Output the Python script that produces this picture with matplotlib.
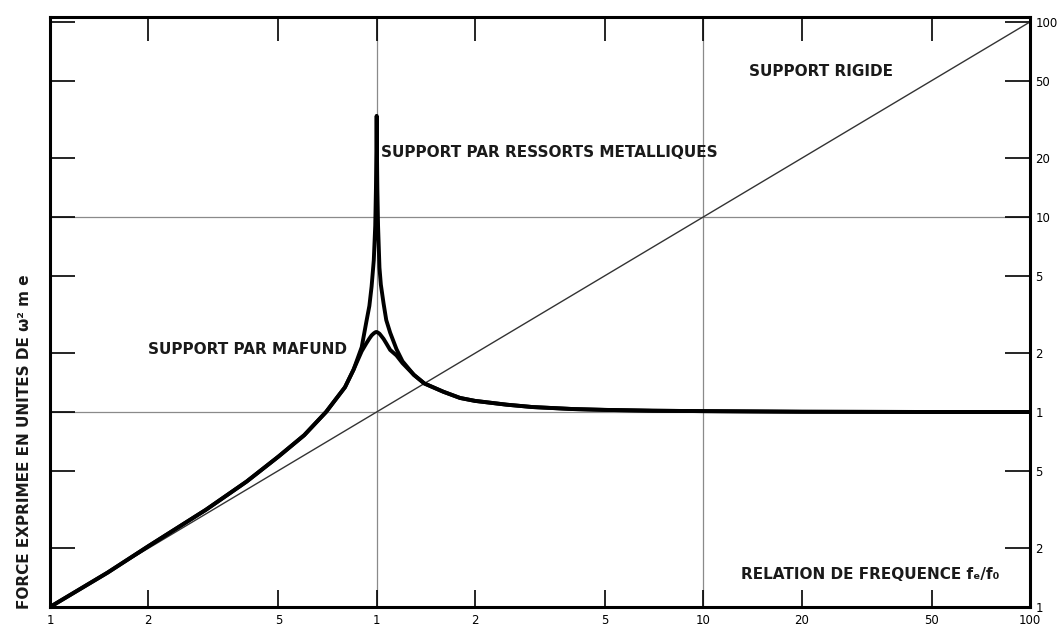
"""Force transmise selon le type de support (courbe de resonance, log-log)."""

import matplotlib
matplotlib.use("Agg")
import matplotlib.pyplot as plt

# frequency ratio (x) -- shared by both supports
ratio = [0.1, 0.15, 0.2, 0.3, 0.4, 0.5, 0.6, 0.7, 0.8, 0.85, 0.9, 0.93,
         0.95, 0.965, 0.98, 0.99, 0.995, 0.998, 1.0, 1.002, 1.005, 1.01,
         1.02, 1.03, 1.05, 1.07, 1.1, 1.15, 1.2, 1.3, 1.4, 1.6, 1.8, 2.0,
         2.5, 3.0, 4.0, 5.0, 7.0, 10.0, 20.0, 50.0, 100.0]

# support par ressorts metalliques (undamped spike)
force_springs = [0.1, 0.15, 0.205, 0.315, 0.44, 0.59, 0.76, 1.0, 1.34,
                 1.65, 2.15, 2.9, 3.5, 4.4, 6.0, 9.0, 14.0, 22.0, 33.0,
                 22.0, 14.0, 9.0, 5.5, 4.5, 3.6, 2.96, 2.55, 2.1, 1.82,
                 1.55, 1.4, 1.27, 1.18, 1.14, 1.09, 1.06, 1.035, 1.025,
                 1.015, 1.01, 1.003, 1.0, 1.0]

# support par Mafund (damped)
force_mafund = [0.1, 0.15, 0.205, 0.315, 0.44, 0.59, 0.76, 1.0, 1.34,
                1.65, 2.05, 2.25, 2.38, 2.47, 2.53, 2.56, 2.57, 2.57, 2.57,
                2.57, 2.56, 2.55, 2.52, 2.47, 2.37, 2.25, 2.08, 1.95, 1.78,
                1.55, 1.4, 1.27, 1.18, 1.14, 1.09, 1.06, 1.035, 1.025,
                1.015, 1.01, 1.003, 1.0, 1.0]

# support rigide: force grows with the ratio
rigid_x = [0.1, 100.0]
rigid_y = [0.1, 100.0]

x_ticks = [0.1, 0.2, 0.5, 1, 2, 5, 10, 20, 50, 100]
x_labels = ["1", "2", "5", "1", "2", "5", "10", "20", "50", "100"]
y_ticks = [0.1, 0.2, 0.5, 1, 2, 5, 10, 20, 50, 100]
y_labels = ["1", "2", "5", "1", "2", "5", "10", "20", "50", "100"]

bold = dict(family="DejaVu Sans", fontweight="bold", fontsize=11,
            color="#1a1a1a")

fig = plt.figure(figsize=(10.59, 6.37), dpi=100)
ax = fig.add_axes([0.0472, 0.0471, 0.9254, 0.9262])
ax.set_xscale("log")
ax.set_yscale("log")
ax.set_xlim(0.1, 100)
ax.set_ylim(0.1, 106)

# thin reference lines at 1 and 10
for v in (1, 10):
    ax.axvline(v, color="#8a8a8a", lw=0.9, zorder=1)
    ax.axhline(v, color="#8a8a8a", lw=0.9, zorder=1)

ax.plot(rigid_x, rigid_y, color="#333333", lw=1.0, zorder=2)
ax.plot(ratio, force_springs, color="black", lw=2.8, zorder=3)
ax.plot(ratio, force_mafund, color="black", lw=2.8, zorder=3)

ax.text(13.8, 55.5, "SUPPORT RIGIDE", va="center", ha="left", **bold)
ax.text(1.03, 21.5, "SUPPORT PAR RESSORTS METALLIQUES", va="center",
        ha="left", **bold)
ax.text(0.2, 2.08, "SUPPORT PAR MAFUND", va="center", ha="left", **bold)
ax.text(13.0, 0.146, "RELATION DE FREQUENCE fₑ/f₀", va="center", ha="left",
        **bold)
fig.text(0.0236, 0.306, "FORCE EXPRIMEE EN UNITES DE ω² m e", rotation=90,
         va="center", ha="center", **bold)

for side in ax.spines.values():
    side.set_linewidth(2.2)

ax.minorticks_off()
ax.set_xticks(x_ticks)
ax.set_xticklabels(x_labels)
ax.set_yticks(y_ticks)
ax.set_yticklabels(y_labels)
ax.tick_params(axis="x", which="major", direction="in", length=12, width=1.2,
               top=True, bottom=True, labelsize=8.5, pad=5)
ax.tick_params(axis="y", which="major", direction="in", length=18, width=1.2,
               left=True, right=True, labelleft=False, labelright=True,
               labelsize=8.5, pad=4)
for t in ax.xaxis.get_major_ticks():
    t.tick2line.set_markersize(17)

fig.savefig("out.png", dpi=100)
